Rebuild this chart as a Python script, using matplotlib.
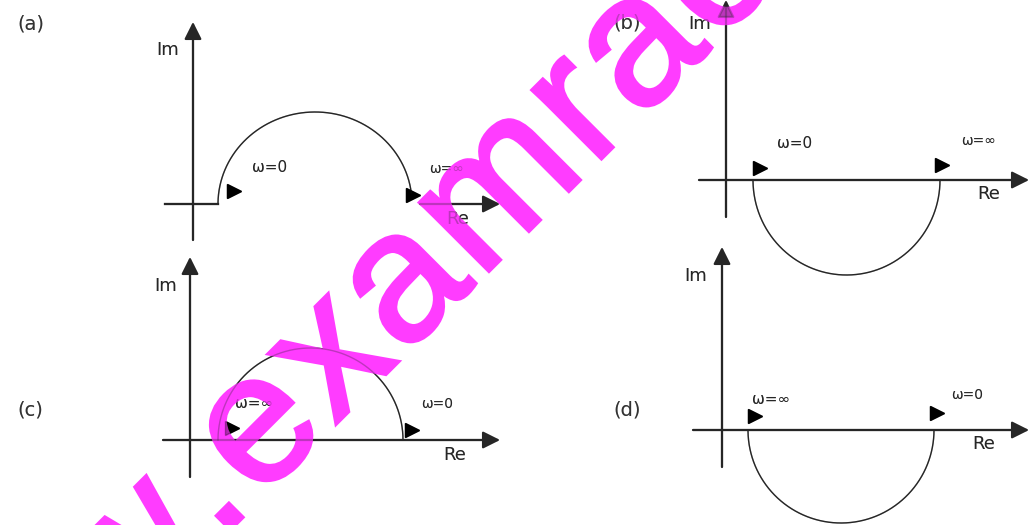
"""Four Nyquist sketches (a)-(d) with the magenta site watermark over them."""

import numpy as np
import matplotlib

matplotlib.use("Agg")
import matplotlib.pyplot as plt
import matplotlib.patheffects as pe

# --- diagram content -------------------------------------------------------
panel_labels = ["(a)", "(b)", "(c)", "(d)"]
arc_side = [1, -1, 1, -1]                 # +1: arc above Re axis, -1: below
left_labels = ["ω=0", "ω=0", "ω=∞", "ω=∞"]
right_labels = ["ω=∞", "ω=∞", "ω=0", "ω=0"]
arc_from = [25, 27, 28, 26]              # Re crossing of arc, px right of origin
arc_to = [219, 214, 213, 212]
arc_height = [92, 95, 92, 93]
arc_stop_deg = [7, 0, 0, 0]              # (a) stops short of the axis
watermark = "www.examrace.com"

# --- layout (pixels, y down) ----------------------------------------------
origins = [(193, 204), (726, 180), (190, 440), (722, 430)]
im_span = [(36, 182), (37, 180), (37, 183), (37, 183)]     # below, above
re_span = [(28, 307), (27, 303), (27, 310), (29, 307)]     # left, right
label_pos = [(31, 24), (627, 23), (30, 410), (627, 410)]
im_pos = [(168, 50), (700, 24), (166, 286), (696, 276)]
re_pos = [(458, 219), (989, 194), (455, 455), (984, 444)]
left_lab_pos = [(270, 167), (795, 144), (254, 403), (771, 399)]
right_lab_pos = [(447, 169), (978, 141), (437, 404), (967, 395)]
flag_pos = [[(234, 191), (413, 195)], [(760, 168), (942, 165)],
            [(232, 428), (412, 430)], [(755, 416), (937, 413)]]

INK = "#262626"
PINK = "#ff3cff"

fig = plt.figure(figsize=(10.29, 5.25), dpi=100)
ax = fig.add_axes([0, 0, 1, 1])
ax.set_xlim(0, 1029)
ax.set_ylim(525, 0)
ax.axis("off")


def axis_arrow(x0, y0, x1, y1, alpha, z):
    ax.annotate("", xy=(x1, y1), xytext=(x0, y0), zorder=z,
                arrowprops=dict(arrowstyle="-|>", color=INK, lw=1.6, alpha=alpha,
                                shrinkA=0, shrinkB=0, mutation_scale=26))


def draw_diagrams(alpha=1.0, z=2):
    kw = dict(alpha=alpha, zorder=z)
    for i, (ox, oy) in enumerate(origins):
        # imaginary axis
        axis_arrow(ox, oy + im_span[i][0], ox, oy - im_span[i][1], alpha, z)
        # real axis; (a) has a gap under its arc
        if i == 0:
            ax.plot([ox - re_span[i][0], ox + arc_from[i]], [oy, oy],
                    color=INK, lw=1.6, **kw)
            axis_arrow(ox + 227, oy, ox + re_span[i][1], oy, alpha, z)
        else:
            axis_arrow(ox - re_span[i][0], oy, ox + re_span[i][1], oy, alpha, z)

        # the half-circle locus
        cx = ox + (arc_from[i] + arc_to[i]) / 2
        rx = (arc_to[i] - arc_from[i]) / 2
        th = np.linspace(np.radians(arc_stop_deg[i]), np.pi, 200)
        ax.plot(cx + rx * np.cos(th), oy - arc_side[i] * arc_height[i] * np.sin(th),
                color=INK, lw=1.0, **kw)

        for fx, fy in flag_pos[i]:
            ax.plot(fx, fy, marker=">", ms=10, color="black", ls="none", **kw)

        ax.text(*label_pos[i], panel_labels[i], ha="center", va="center",
                fontsize=14, color="#333333", **kw)
        ax.text(*im_pos[i], "Im", ha="center", va="center", fontsize=13,
                color=INK, **kw)
        ax.text(*re_pos[i], "Re", ha="center", va="center", fontsize=13,
                color=INK, **kw)
        ax.text(*left_lab_pos[i], left_labels[i], ha="center", va="center",
                fontsize=11, color=INK, **kw)
        ax.text(*right_lab_pos[i], right_labels[i], ha="center", va="center",
                fontsize=10, color=INK, **kw)


draw_diagrams()

# watermark: Arial-metric letters along a 45 degree baseline
adv = {"w": 0.722, ".": 0.278, "e": 0.556, "x": 0.5, "a": 0.556,
       "m": 0.833, "r": 0.333, "c": 0.5, "o": 0.556}
em = 185
track = 5
u = np.array([np.sqrt(0.5), -np.sqrt(0.5)])
start_e = np.array([258.4, 501.8])
k = watermark.index("e")
offs = [0.0]
for ch in watermark[:-1]:
    offs.append(offs[-1] + adv[ch] * em + track)
offs = np.array(offs) - offs[k]
for ch, d in zip(watermark, offs):
    px, py = start_e + u * d
    ax.text(px, py, ch, rotation=45, rotation_mode="anchor", ha="left",
            va="baseline", fontsize=em * 0.72, family="Liberation Sans",
            color=PINK, zorder=10, clip_on=True,
            path_effects=[pe.Stroke(linewidth=2.5, foreground=PINK,
                                    joinstyle="miter", capstyle="butt"),
                          pe.Normal()])

# faint second pass so the drawing shows through the watermark
draw_diagrams(alpha=0.3, z=11)

fig.savefig("out.png", dpi=100)
